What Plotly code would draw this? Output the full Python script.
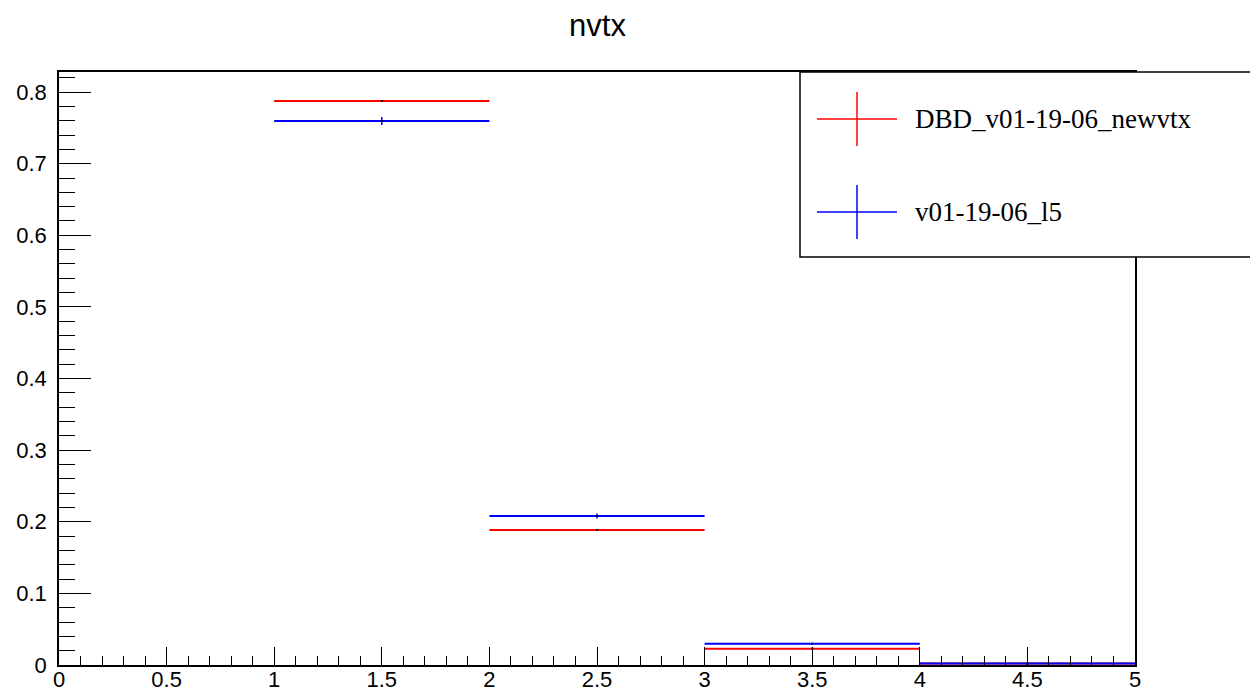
import plotly.graph_objects as go

# Histogram "nvtx": bin centres, half-widths, contents and errors
bin_centers = [1.5, 2.5, 3.5, 4.5]
bin_half_width = [0.5, 0.5, 0.5, 0.5]

red_name = "DBD_v01-19-06_newvtx"
red_values = [0.7875, 0.1885, 0.0228, 0.0022]
red_errors = [0.0012, 0.0010, 0.0004, 0.0001]

blue_name = "v01-19-06_l5"
blue_values = [0.7595, 0.2080, 0.0297, 0.0022]
blue_errors = [0.0055, 0.0035, 0.0010, 0.0002]

x_range = [0, 5]
y_range = [0, 0.828]
x_tick_vals = [0, 0.5, 1, 1.5, 2, 2.5, 3, 3.5, 4, 4.5, 5]
x_tick_text = ["0", "0.5", "1", "1.5", "2", "2.5", "3", "3.5", "4", "4.5", "5"]
y_tick_vals = [0, 0.1, 0.2, 0.3, 0.4, 0.5, 0.6, 0.7, 0.8]
y_tick_text = ["0", "0.1", "0.2", "0.3", "0.4", "0.5", "0.6", "0.7", "0.8"]

W, H = 1250, 693
L, R, T, B = 59, 115, 72, 28

RED = "#ff0000"
BLUE = "#0000ff"


def hist_trace(values, errors, color, name):
    return go.Scatter(
        x=bin_centers,
        y=values,
        name=name,
        mode="markers",
        marker=dict(color="black", size=2, symbol="square", line=dict(width=0)),
        error_x=dict(type="data", array=bin_half_width, symmetric=True,
                     color=color, thickness=2, width=0),
        error_y=dict(type="data", array=errors, symmetric=True,
                     color=color, thickness=1.5, width=0),
        showlegend=False,
        cliponaxis=False,
    )


fig = go.Figure()
fig.add_trace(hist_trace(red_values, red_errors, RED, red_name))
fig.add_trace(hist_trace(blue_values, blue_errors, BLUE, blue_name))

tick_font = dict(family="Liberation Sans, Arial, sans-serif", size=22, color="black")

fig.update_xaxes(
    range=x_range, tickmode="array", tickvals=x_tick_vals, ticktext=x_tick_text,
    ticks="inside", ticklen=18, tickwidth=1.3, tickcolor="black",
    minor=dict(dtick=0.1, ticks="inside", ticklen=9, tickwidth=1.3, tickcolor="black"),
    showline=True, linecolor="black", linewidth=1.5, mirror=True,
    showgrid=False, zeroline=False, tickfont=tick_font, ticklabelstandoff=-6,
    automargin=False,
)
fig.update_yaxes(
    range=y_range, tickmode="array", tickvals=y_tick_vals, ticktext=y_tick_text,
    ticks="inside", ticklen=32, tickwidth=1.3, tickcolor="black",
    minor=dict(dtick=0.02, ticks="inside", ticklen=16, tickwidth=1.3, tickcolor="black"),
    showline=True, linecolor="black", linewidth=1.5, mirror=True,
    showgrid=False, zeroline=False, tickfont=tick_font, ticklabelstandoff=6,
    automargin=False,
)

pw, ph = W - L - R, H - T - B


def px_x(px):
    return (px - L) / pw


def px_y(py):
    return (H - B - py) / ph


# Legend box with cross markers
shapes = [
    dict(type="rect", xref="paper", yref="paper",
         x0=px_x(800), x1=px_x(1265), y0=px_y(257), y1=px_y(72),
         line=dict(color="black", width=1.5), fillcolor="white", layer="above"),
]
annotations = []
for cy, color, label in [(119, RED, red_name), (212, BLUE, blue_name)]:
    shapes.append(dict(type="line", xref="paper", yref="paper",
                       x0=px_x(817), x1=px_x(897), y0=px_y(cy), y1=px_y(cy),
                       line=dict(color=color, width=1.5), layer="above"))
    shapes.append(dict(type="line", xref="paper", yref="paper",
                       x0=px_x(857), x1=px_x(857), y0=px_y(cy - 27), y1=px_y(cy + 27),
                       line=dict(color=color, width=1.5), layer="above"))
    annotations.append(dict(
        xref="paper", yref="paper", x=px_x(913), y=px_y(cy),
        xanchor="left", yanchor="middle", showarrow=False, text=label,
        font=dict(family="Liberation Serif, Times New Roman, serif", size=27, color="black"),
    ))

fig.update_layout(
    width=W, height=H,
    margin=dict(l=L, r=R, t=T, b=B),
    paper_bgcolor="white", plot_bgcolor="white",
    title=dict(text="nvtx", x=0.478, xanchor="center", y=1 - 25 / H, yanchor="middle",
               font=dict(family="Liberation Sans, Arial, sans-serif", size=31, color="black")),
    shapes=shapes, annotations=annotations,
    showlegend=False,
)

fig.write_html("out.html")
